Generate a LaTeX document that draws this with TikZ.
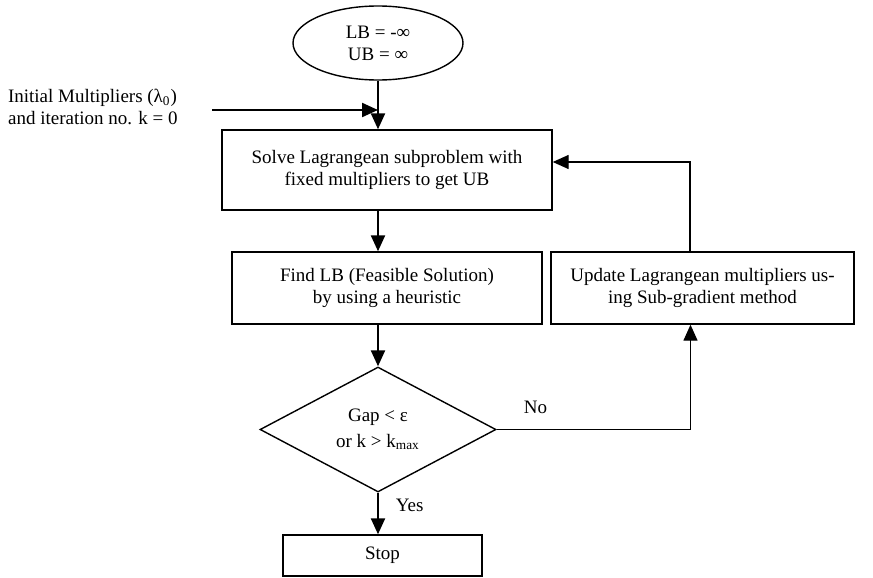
\documentclass[tikz,border=0pt]{standalone}
\usepackage{fontspec}
\setmainfont{Liberation Serif}
\usetikzlibrary{arrows,arrows.meta,shapes.geometric,positioning}

\begin{document}
\begin{tikzpicture}[x=0.5pt, y=-0.5pt, every edge/.style={draw,solid},
                    every node/.style={font=\fontsize{9.5}{11}\selectfont},
                    box/.style={draw, line width=0.7pt, align=center, inner sep=0pt},
                    start/.style={ellipse, draw, line width=0.7pt, align=center, inner sep=0pt,
                                  minimum width=85pt, minimum height=37pt},
                    test/.style={diamond, draw, line width=0.7pt, align=center, inner sep=0pt,
                                 minimum width=118pt, minimum height=62.5pt},
                    >={Triangle[length=8pt,width=7pt]}]

\useasboundingbox (0,0) rectangle (873,578);

\node[start] (init) at (378,43) {LB = -∞\\UB = ∞};
\node[box, minimum width=165pt, minimum height=40pt] (solve) at (387,170)
     {Solve Lagrangean subproblem with\\fixed multipliers to get UB};
\node[box, minimum width=155pt, minimum height=36pt] (find) at (387,288)
     {Find LB (Feasible Solution)\\by using a heuristic};
\node[box, minimum width=151.5pt, minimum height=36pt] (update) at (702.5,288)
     {Update Lagrangean multipliers us-\\ing Sub-gradient method};
\node[test, font=\fontsize{9.5}{13}\selectfont] (gap) at (378,429.5)
     {Gap < ε\\or k > k\textsubscript{max}};
\node[box, minimum width=99.5pt, minimum height=20.5pt] (stop) at (382.5,555.5) {Stop};
\node[anchor=west, align=left] (input) at (1,107)
     {Initial Multipliers (λ\textsubscript{0})\\and iteration no. k = 0};
\coordinate (inp) at (212,110);

\path[->, line width=1.1pt]
(init) edge (init |- solve.north)
(inp) edge (inp -| init)
(solve.south -| init) edge (find.north -| init)
(find.south -| init) edge (gap.north)
(gap.south) edge node[right=5pt, pos=0.3] {Yes} (stop.north -| gap);

\draw[->, line width=0.7pt] ([xshift=-6.25pt]update.north) |- ([yshift=4pt]solve.east);
\draw[->, line width=0.7pt] (gap.east) -| node[above=4pt, pos=0.1] {No} ([xshift=-6pt]update.south);
\end{tikzpicture}
\end{document}
